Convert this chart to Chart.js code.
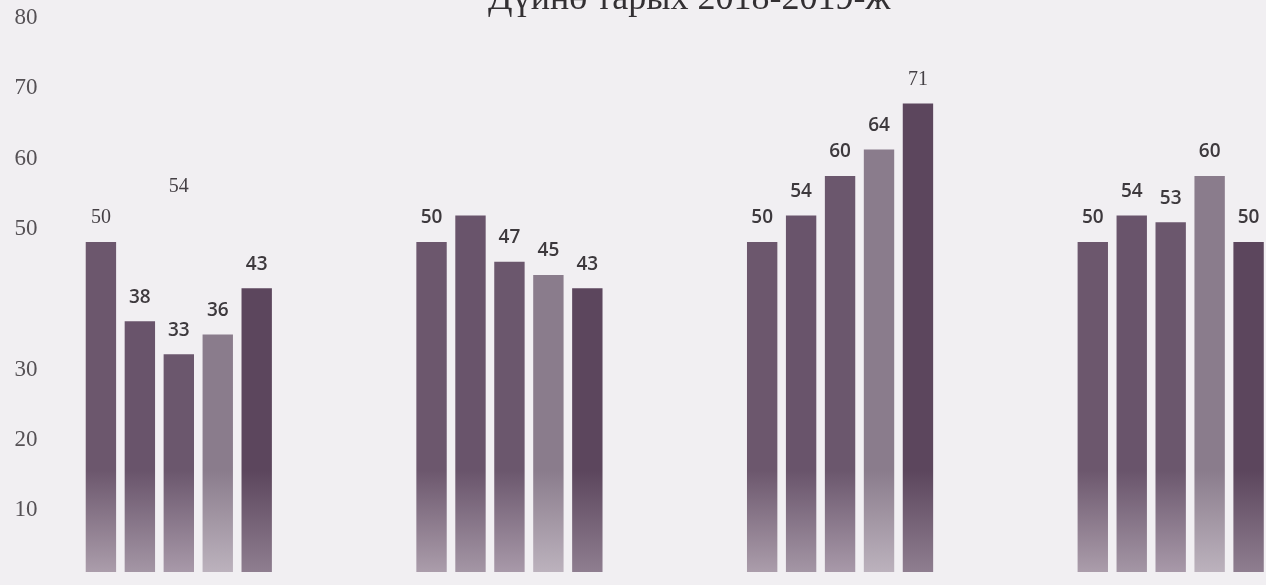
<!DOCTYPE html>
<html><head><meta charset="utf-8">
<script src="https://cdn.jsdelivr.net/npm/chart.js@4/dist/chart.umd.min.js"></script>
<style>
html,body{margin:0;padding:0;background:#f1eff2;overflow:hidden;width:1266px;height:585px;}
#wrap{position:absolute;left:0;top:-21px;width:1367px;height:609px;}
</style></head><body>
<div id="wrap"><canvas id="c"></canvas></div>
<script>
const titleText = 'Дүйнө тарых 2018-2019-ж';
const categories = ['I', 'II', 'III', 'IV'];
const seriesNames = ['1', '2', '3', '4', '5'];
const series1 = [50, 50, 50, 50];
const series2 = [38, 54, 54, 54];
const series3 = [33, 47, 60, 53];
const series4 = [36, 45, 64, 60];
const series5 = [43, 43, 71, 50];
const yTickLabels = [10, 20, 30, 50, 60, 70, 80];
// value labels that are missing in the original: [series, category]
const hiddenLabels = [[1, 1]];
// value labels printed in a serif face in the original: [series, category]
const serifLabels = [[0, 0], [4, 2]];
// stray printed label: text, series/category it sits over, value height
const strayLabelText = '54';
const strayLabelAt = [2, 0];
const strayLabelValue = 58.3;

const seriesValues = [series1, series2, series3, series4, series5];
const seriesTop = ['#6c576d', '#69546b', '#6b576d', '#8a7c8c', '#5c465d'];
const seriesBottom = ['#ab9dab', '#a496a5', '#a899a9', '#bcb2bd', '#8f7e90'];

function gradFor(i) {
  return function (ctx) {
    const chart = ctx.chart;
    const area = chart.chartArea;
    if (!area) return seriesTop[i];
    const ys = chart.scales.y;
    const g = chart.ctx.createLinearGradient(0, ys.getPixelForValue(70), 0, ys.getPixelForValue(0));
    g.addColorStop(0, seriesTop[i]);
    g.addColorStop(0.78, seriesTop[i]);
    g.addColorStop(1, seriesBottom[i]);
    return g;
  };
}

const has = (list, s, c) => list.some(p => p[0] === s && p[1] === c);

const labelPlugin = {
  id: 'valueLabels',
  afterDatasetsDraw(chart) {
    const ctx = chart.ctx;
    ctx.save();
    ctx.textAlign = 'center';
    ctx.textBaseline = 'middle';
    chart.data.datasets.forEach((ds, i) => {
      const meta = chart.getDatasetMeta(i);
      meta.data.forEach((bar, j) => {
        if (has(hiddenLabels, i, j)) return;
        if (has(serifLabels, i, j)) {
          ctx.font = '20px "Liberation Serif", "DejaVu Serif", serif';
          ctx.fillStyle = '#454045';
        } else {
          ctx.font = '600 19px "Open Sans", "Liberation Sans", sans-serif';
          ctx.fillStyle = '#3d393d';
        }
        ctx.fillText(String(ds.data[j]), bar.x, bar.y - 24);
      });
    });
    const sb = chart.getDatasetMeta(strayLabelAt[0]).data[strayLabelAt[1]];
    ctx.font = '20px "Liberation Serif", "DejaVu Serif", serif';
    ctx.fillStyle = '#454045';
    ctx.fillText(strayLabelText, sb.x, chart.scales.y.getPixelForValue(strayLabelValue));
    ctx.restore();
  }
};

new Chart(document.getElementById('c'), {
  type: 'bar',
  data: {
    labels: categories,
    datasets: seriesValues.map((vals, i) => ({
      label: seriesNames[i],
      data: vals,
      yAxisID: 'y',
      backgroundColor: gradFor(i),
      borderWidth: 0,
      categoryPercentage: 0.589,
      barPercentage: 0.78
    }))
  },
  options: {
    responsive: true,
    maintainAspectRatio: false,
    animation: false,
    layout: { padding: { left: 11.5, right: 0, top: 0, bottom: 16 } },
    plugins: {
      legend: { display: false },
      tooltip: { enabled: false },
      title: {
        display: true,
        text: titleText,
        color: '#333033',
        font: { family: '"Liberation Serif", "DejaVu Serif", serif', size: 36, weight: 'normal', lineHeight: 1 },
        padding: { top: 3, bottom: -3 }
      }
    },
    scales: {
      x: { display: false },
      y: { display: false, min: 0, max: 84.39 },
      yL: {
        position: 'left',
        min: 1.19,
        max: 80.43,
        grid: { display: false, drawTicks: false },
        border: { display: false },
        afterBuildTicks: s => { s.ticks = yTickLabels.map(v => ({ value: v })); },
        ticks: {
          mirror: true,
          padding: 1,
          color: '#555155',
          font: { family: '"Liberation Serif", "DejaVu Serif", serif', size: 23 }
        }
      },
      yR: {
        position: 'right',
        grid: { display: false, drawTicks: false },
        border: { display: false },
        ticks: { display: false },
        afterFit: s => { s.width = 31; }
      }
    }
  },
  plugins: [labelPlugin]
});
</script>
</body></html>
